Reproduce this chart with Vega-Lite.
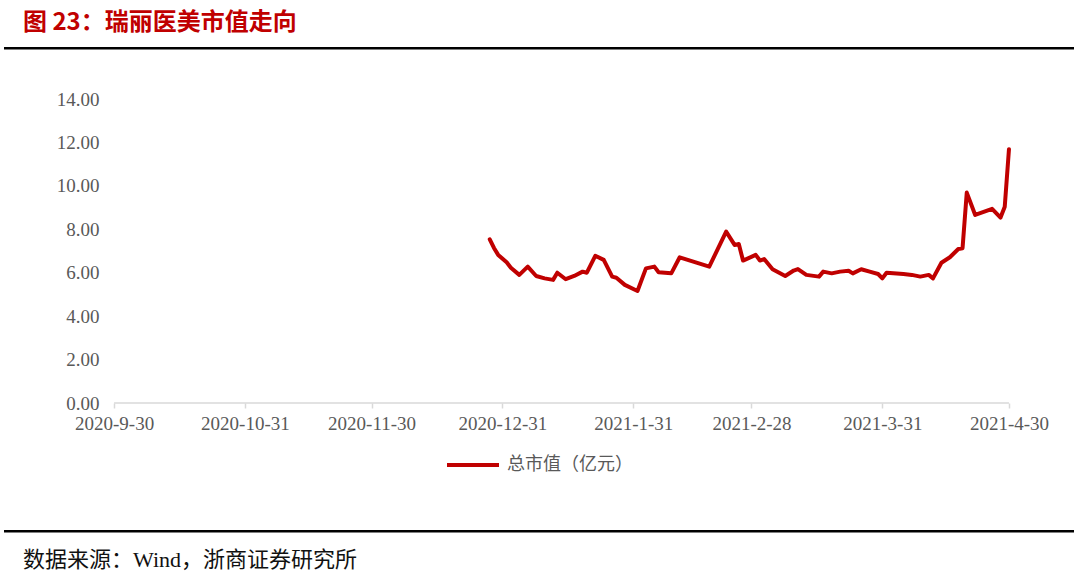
{
  "$schema": "https://vega.github.io/schema/vega-lite/v6.json",
  "background": "white",
  "padding": {"left": 4, "top": 10, "right": 4, "bottom": 4},
  "config": {
    "view": {"stroke": null},
    "concat": {"spacing": 40},
    "legend": {"layout": {"bottom": {"anchor": "middle"}}}
  },
  "align": "none",
  "resolve": {"scale": {"color": "independent"}, "legend": {"color": "independent"}},
  "vconcat": [
    {
      "width": 1068,
      "height": 0.5,
      "view": {"stroke": "#000000", "strokeWidth": 2},
      "title": {"text": "图 23：瑞丽医美市值走向", "anchor": "start", "dx": 18, "color": "#C00000", "font": "Noto Sans CJK SC", "fontSize": 24, "fontWeight": "bold", "offset": 13},
      "data": {"values": []},
      "mark": "text"
    },
    {
      "width": 1068,
      "height": 304,
      "encoding": {
        "x": {
          "type": "temporal",
          "scale": {"type": "utc", "domain": [
            {"year": 2020, "month": 9, "date": 4, "hours": 4, "utc": true},
            {"year": 2021, "month": 5, "date": 15, "hours": 4, "utc": true}
          ]},
          "axis": {
            "title": null, "grid": false, "domain": false,
            "values": [
              {"year": 2020, "month": 9, "date": 30, "utc": true},
              {"year": 2020, "month": 10, "date": 31, "utc": true},
              {"year": 2020, "month": 11, "date": 30, "utc": true},
              {"year": 2020, "month": 12, "date": 31, "utc": true},
              {"year": 2021, "month": 1, "date": 31, "utc": true},
              {"year": 2021, "month": 2, "date": 28, "utc": true},
              {"year": 2021, "month": 3, "date": 31, "utc": true},
              {"year": 2021, "month": 4, "date": 30, "utc": true}
            ],
            "format": "%Y-%-m-%-d",
            "tickColor": "#D9D9D9", "tickSize": 5, "tickWidth": 1.5,
            "labelFont": "Liberation Serif", "labelFontSize": 19, "labelColor": "#595959",
            "labelPadding": 6, "labelFlush": false, "labelOverlap": false
          }
        },
        "y": {
          "type": "quantitative",
          "scale": {"domain": [0, 14], "nice": false},
          "axis": {
            "title": null, "grid": false, "domain": false, "ticks": false,
            "values": [0, 2, 4, 6, 8, 10, 12, 14],
            "format": ".2f", "offset": -109,
            "labelFont": "Liberation Serif", "labelFontSize": 19, "labelColor": "#595959",
            "labelPadding": 15
          }
        }
      },
      "layer": [
        {
          "data": {"values": [{"start": "2020-09-30", "end": "2021-04-30", "base": 0}]},
          "mark": {"type": "rule", "color": "#D9D9D9", "strokeWidth": 1.5},
          "encoding": {
            "x": {"field": "start", "type": "temporal"},
            "x2": {"field": "end"},
            "y": {"field": "base", "type": "quantitative"}
          }
        },
        {
          "data": {"values": [
            {"date": "2020-12-28", "value": 7.54, "series": "总市值（亿元）"},
            {"date": "2020-12-29", "value": 7.14, "series": "总市值（亿元）"},
            {"date": "2020-12-30", "value": 6.82, "series": "总市值（亿元）"},
            {"date": "2021-01-01", "value": 6.48, "series": "总市值（亿元）"},
            {"date": "2021-01-02", "value": 6.23, "series": "总市值（亿元）"},
            {"date": "2021-01-04", "value": 5.90, "series": "总市值（亿元）"},
            {"date": "2021-01-06", "value": 6.28, "series": "总市值（亿元）"},
            {"date": "2021-01-08", "value": 5.85, "series": "总市值（亿元）"},
            {"date": "2021-01-10", "value": 5.74, "series": "总市值（亿元）"},
            {"date": "2021-01-12", "value": 5.67, "series": "总市值（亿元）"},
            {"date": "2021-01-13", "value": 6.00, "series": "总市值（亿元）"},
            {"date": "2021-01-15", "value": 5.70, "series": "总市值（亿元）"},
            {"date": "2021-01-17", "value": 5.85, "series": "总市值（亿元）"},
            {"date": "2021-01-19", "value": 6.05, "series": "总市值（亿元）"},
            {"date": "2021-01-20", "value": 6.00, "series": "总市值（亿元）"},
            {"date": "2021-01-22", "value": 6.78, "series": "总市值（亿元）"},
            {"date": "2021-01-24", "value": 6.59, "series": "总市值（亿元）"},
            {"date": "2021-01-26", "value": 5.82, "series": "总市值（亿元）"},
            {"date": "2021-01-27", "value": 5.77, "series": "总市值（亿元）"},
            {"date": "2021-01-29", "value": 5.44, "series": "总市值（亿元）"},
            {"date": "2021-02-01", "value": 5.16, "series": "总市值（亿元）"},
            {"date": "2021-02-03", "value": 6.20, "series": "总市值（亿元）"},
            {"date": "2021-02-05", "value": 6.28, "series": "总市值（亿元）"},
            {"date": "2021-02-06", "value": 6.02, "series": "总市值（亿元）"},
            {"date": "2021-02-09", "value": 5.97, "series": "总市值（亿元）"},
            {"date": "2021-02-11", "value": 6.71, "series": "总市值（亿元）"},
            {"date": "2021-02-18", "value": 6.28, "series": "总市值（亿元）"},
            {"date": "2021-02-22", "value": 7.89, "series": "总市值（亿元）"},
            {"date": "2021-02-24", "value": 7.28, "series": "总市值（亿元）"},
            {"date": "2021-02-25", "value": 7.32, "series": "总市值（亿元）"},
            {"date": "2021-02-26", "value": 6.56, "series": "总市值（亿元）"},
            {"date": "2021-03-01", "value": 6.82, "series": "总市值（亿元）"},
            {"date": "2021-03-02", "value": 6.56, "series": "总市值（亿元）"},
            {"date": "2021-03-03", "value": 6.63, "series": "总市值（亿元）"},
            {"date": "2021-03-05", "value": 6.16, "series": "总市值（亿元）"},
            {"date": "2021-03-08", "value": 5.85, "series": "总市值（亿元）"},
            {"date": "2021-03-10", "value": 6.10, "series": "总市值（亿元）"},
            {"date": "2021-03-11", "value": 6.17, "series": "总市值（亿元）"},
            {"date": "2021-03-13", "value": 5.90, "series": "总市值（亿元）"},
            {"date": "2021-03-16", "value": 5.82, "series": "总市值（亿元）"},
            {"date": "2021-03-17", "value": 6.05, "series": "总市值（亿元）"},
            {"date": "2021-03-19", "value": 5.97, "series": "总市值（亿元）"},
            {"date": "2021-03-21", "value": 6.05, "series": "总市值（亿元）"},
            {"date": "2021-03-23", "value": 6.09, "series": "总市值（亿元）"},
            {"date": "2021-03-24", "value": 5.97, "series": "总市值（亿元）"},
            {"date": "2021-03-26", "value": 6.16, "series": "总市值（亿元）"},
            {"date": "2021-03-28", "value": 6.05, "series": "总市值（亿元）"},
            {"date": "2021-03-30", "value": 5.94, "series": "总市值（亿元）"},
            {"date": "2021-03-31", "value": 5.74, "series": "总市值（亿元）"},
            {"date": "2021-04-01", "value": 6.00, "series": "总市值（亿元）"},
            {"date": "2021-04-05", "value": 5.94, "series": "总市值（亿元）"},
            {"date": "2021-04-07", "value": 5.90, "series": "总市值（亿元）"},
            {"date": "2021-04-09", "value": 5.82, "series": "总市值（亿元）"},
            {"date": "2021-04-11", "value": 5.90, "series": "总市值（亿元）"},
            {"date": "2021-04-12", "value": 5.74, "series": "总市值（亿元）"},
            {"date": "2021-04-14", "value": 6.46, "series": "总市值（亿元）"},
            {"date": "2021-04-16", "value": 6.71, "series": "总市值（亿元）"},
            {"date": "2021-04-18", "value": 7.09, "series": "总市值（亿元）"},
            {"date": "2021-04-19", "value": 7.13, "series": "总市值（亿元）"},
            {"date": "2021-04-20", "value": 9.69, "series": "总市值（亿元）"},
            {"date": "2021-04-22", "value": 8.66, "series": "总市值（亿元）"},
            {"date": "2021-04-26", "value": 8.94, "series": "总市值（亿元）"},
            {"date": "2021-04-28", "value": 8.54, "series": "总市值（亿元）"},
            {"date": "2021-04-29", "value": 9.04, "series": "总市值（亿元）"},
            {"date": "2021-04-30", "value": 11.69, "series": "总市值（亿元）"}
          ]},
          "mark": {"type": "line", "strokeWidth": 4, "strokeJoin": "round", "strokeCap": "round"},
          "encoding": {
            "x": {"field": "date", "type": "temporal"},
            "y": {"field": "value", "type": "quantitative"},
            "color": {
              "field": "series", "type": "nominal",
              "scale": {"range": ["#C00000"]},
              "legend": {
                "title": null, "orient": "bottom", "direction": "horizontal",
                "symbolType": "stroke", "symbolSize": 2704, "symbolStrokeWidth": 4,
                "labelFont": "Noto Sans CJK SC", "labelFontSize": 18, "labelColor": "#595959",
                "labelOffset": 6, "offset": -12, "padding": 16
              }
            }
          }
        }
      ]
    },
    {
      "width": 1068,
      "height": 0.5,
      "view": {"stroke": "#000000", "strokeWidth": 2},
      "title": {"text": "数据来源：Wind，浙商证券研究所", "orient": "bottom", "anchor": "start", "dx": 18, "color": "#111111", "font": "Liberation Serif, Noto Sans CJK SC", "fontSize": 22, "fontWeight": "normal", "offset": 18},
      "data": {"values": []},
      "mark": "text"
    }
  ]
}
